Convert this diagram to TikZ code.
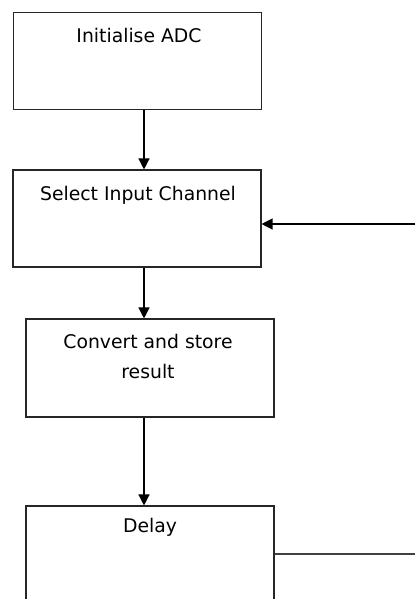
\documentclass[tikz,border=0pt]{standalone}
\usepackage{fontspec}
\setmainfont{DejaVu Sans}
\usetikzlibrary{arrows.meta,positioning}
\tikzset{
  stepbox/.style={draw=black!85, line width=1.1pt, minimum width=248pt, minimum height=97pt, inner sep=0pt},
  steptext/.style={font=\fontsize{18.8}{30}\selectfont, align=center, inner sep=0pt, anchor=base},
  flow/.style={line width=1.3pt, -{Triangle[length=11pt,width=11pt]}}
}
\begin{document}
\begin{tikzpicture}[x=1pt,y=-1pt]
	\clip (0,0) rectangle (415,599);
	\node[stepbox] (init) at (137.5,61) {};
	\node[stepbox] (select) at (137,218.5) {};
	\node[stepbox, minimum height=98pt] (conv) at (150,368) {};
	\node[stepbox, minimum height=100pt] (delay) at (150,556) {};
	% texts near the top of each box (base = last line)
	\node[steptext] (initT) at ([xshift=1.5pt,yshift=-31pt]init.north) {Initialise ADC};
	\node[steptext] (selectT) at ([xshift=1pt,yshift=-31pt]select.north) {Select Input Channel};
	\node[steptext] (convT) at ([xshift=-2pt,yshift=-60pt]conv.north) {Convert and store\\result};
	\node[steptext] (delayT) at ([yshift=-27pt]delay.north) {Delay};
	% main flow
	\draw[flow] ([xshift=6.5pt]init.south) -- ([xshift=6.5pt]init.south |- select.north);
	\draw[flow] ([xshift=7pt]select.south) -- ([xshift=7pt]select.south |- conv.north);
	\draw[flow] ([xshift=-6pt]conv.south) -- ([xshift=-6pt]conv.south |- delay.north);
	% loop back
	\coordinate (retin) at (415,224);
	\coordinate (retout) at (415,554);
	\draw[flow] (retin) -- (retin -| select.east);
	\draw[line width=1.3pt, black!75] (retout -| delay.east) -- (retout);
\end{tikzpicture}
\end{document}
